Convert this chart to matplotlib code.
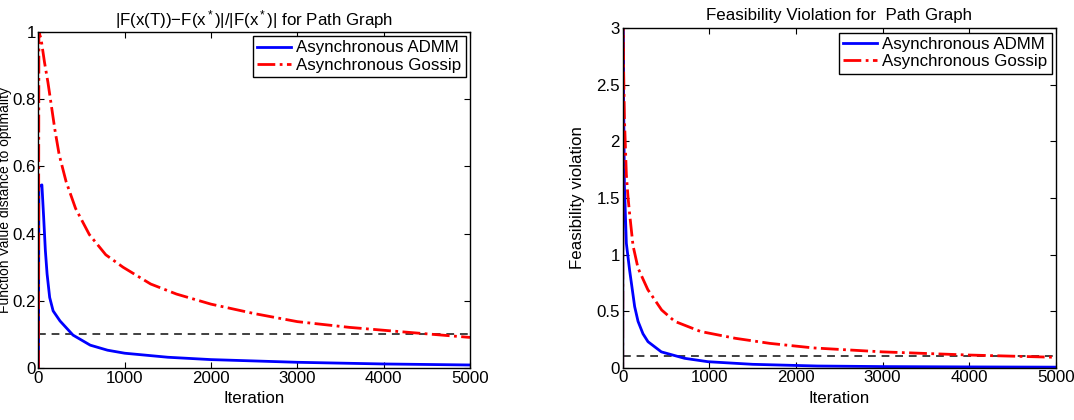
import matplotlib
matplotlib.use('Agg')
import matplotlib.pyplot as plt

plt.rcParams['font.family'] = ['Liberation Sans', 'DejaVu Sans']
plt.rcParams['mathtext.fontset'] = 'custom'
plt.rcParams['mathtext.rm'] = 'Liberation Sans'
plt.rcParams['mathtext.it'] = 'Liberation Sans'

# left panel: relative function value distance
admm_t_left = [0, 5, 40, 60, 80, 100, 130, 170, 250, 400, 600, 800, 1000, 1500, 2000, 3000, 4000, 5000]
admm_v_left = [0, 0.54, 0.545, 0.45, 0.35, 0.28, 0.21, 0.17, 0.14, 0.098, 0.068, 0.053, 0.044, 0.032, 0.025, 0.017, 0.012, 0.009]
gossip_t_left = [0, 5, 30, 70, 110, 150, 190, 240, 320, 430, 590, 780, 980, 1300, 1600, 2000, 2500, 3000, 3600, 4200, 5000]
gossip_v_left = [0, 1.0, 0.98, 0.91, 0.85, 0.78, 0.71, 0.635, 0.555, 0.475, 0.397, 0.337, 0.30, 0.25, 0.22, 0.19, 0.162, 0.138, 0.121, 0.108, 0.091]

# right panel: feasibility violation
admm_t_right = [0, 3, 20, 42, 61, 80, 100, 138, 177, 234, 292, 446, 715, 985, 1500, 2250, 3000, 4000, 5000]
admm_v_right = [0, 3.0, 1.6, 1.1, 0.98, 0.86, 0.75, 0.54, 0.41, 0.30, 0.23, 0.14, 0.083, 0.053, 0.03, 0.015, 0.01, 0.007, 0.005]
gossip_t_right = [0, 3, 20, 42, 61, 80, 119, 177, 290, 450, 600, 900, 1300, 1700, 2200, 3000, 4000, 5000]
gossip_v_right = [0, 3.0, 2.2, 1.71, 1.51, 1.36, 1.08, 0.88, 0.69, 0.51, 0.41, 0.32, 0.26, 0.215, 0.175, 0.14, 0.112, 0.092]

threshold = 0.1
x_max = 5000
fs = 12.2

fig = plt.figure(figsize=(10.74, 4.2), dpi=100)
ax1 = fig.add_axes([0.0358, 0.1238, 0.4018, 0.80])
ax2 = fig.add_axes([0.5798, 0.1245, 0.4032, 0.808])


def style_axes(ax, ylim, yticks):
    ax.set_xlim(0, x_max)
    ax.set_ylim(*ylim)
    ax.set_xticks([0, 1000, 2000, 3000, 4000, 5000])
    ax.set_yticks(yticks)
    ax.tick_params(direction='in', top=True, right=True, length=4, width=0.8,
                   labelsize=fs, pad=2)
    for sp in ax.spines.values():
        sp.set_linewidth(1.0)
        sp.set_color('black')
    ax.set_xlabel('Iteration', fontsize=fs)
    ax.xaxis.set_label_coords(0.5, -0.068)


def draw(ax, ta, va, tg, vg):
    ax.plot([0, x_max], [threshold, threshold], color='#404040', ls='--', lw=1.4, dashes=(4, 3))
    la, = ax.plot(ta, va, color='#0000ff', lw=2.0, label='Asynchronous ADMM')
    lg, = ax.plot(tg, vg, color='#ff0000', lw=2.0, ls='-.', label='Asynchronous Gossip')
    leg = ax.legend(handles=[la, lg], loc='upper right', fontsize=fs, fancybox=False,
                    framealpha=1, edgecolor='black', borderaxespad=0.25,
                    handlelength=2.0, handletextpad=0.3, borderpad=0.25, labelspacing=0.15)
    leg.get_frame().set_linewidth(1.0)


draw(ax1, admm_t_left, admm_v_left, gossip_t_left, gossip_v_left)
style_axes(ax1, (0, 1), [0, 0.2, 0.4, 0.6, 0.8, 1])
ax1.set_yticklabels(['0', '0.2', '0.4', '0.6', '0.8', '1'])
ax1.set_title(r'|F(x(T))$-$F(x$^*$)|/|F(x$^*$)| for Path Graph', fontsize=fs, pad=5)
ax1.set_ylabel('Function Value distance to optimality', fontsize=10)
ax1.yaxis.set_label_coords(-0.0615, 0.5)

draw(ax2, admm_t_right, admm_v_right, gossip_t_right, gossip_v_right)
style_axes(ax2, (0, 3), [0, 0.5, 1, 1.5, 2, 2.5, 3])
ax2.set_yticklabels(['0', '0.5', '1', '1.5', '2', '2.5', '3'])
ax2.set_title('Feasibility Violation for  Path Graph', fontsize=fs, pad=6)
ax2.set_ylabel('Feasibility violation', fontsize=fs)
ax2.yaxis.set_label_coords(-0.087, 0.5)

fig.savefig('out.png', dpi=100)
